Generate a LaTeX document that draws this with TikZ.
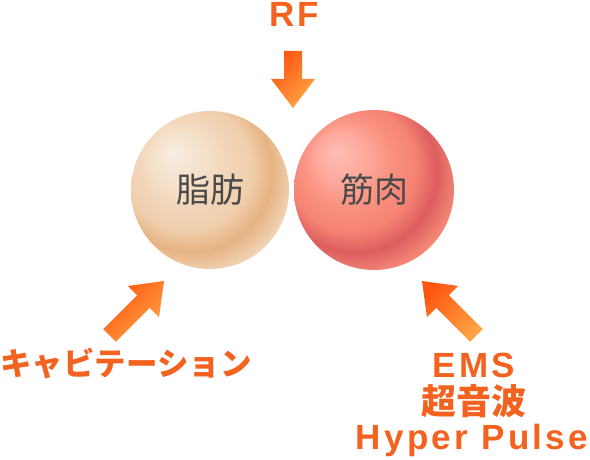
\documentclass[tikz,border=0pt]{standalone}
\usepackage{fontspec}
\setmainfont{Liberation Sans}
\newfontfamily\latinfont{Liberation Sans}[LetterSpace=9.5]
\newfontfamily\jpfont{Noto Sans CJK JP}
\usetikzlibrary{positioning}

\definecolor{labelorange}{RGB}{243,98,30}
\definecolor{labelgray}{RGB}{74,74,74}
\definecolor{arrowdark}{RGB}{255,86,16}
\definecolor{arrowlight}{RGB}{255,164,68}

% sphere colours
\definecolor{fathi}{RGB}{249,237,226}
\definecolor{fatpale}{RGB}{245,225,203}
\definecolor{fatmid}{RGB}{242,214,186}
\definecolor{fatshade}{RGB}{240,207,173}
\definecolor{fatlo}{RGB}{230,179,130}
\definecolor{fatrim}{RGB}{241,211,180}
\definecolor{musclehi}{RGB}{255,190,180}
\definecolor{musclepale}{RGB}{254,168,155}
\definecolor{musclemid}{RGB}{250,145,128}
\definecolor{muscleshade}{RGB}{246,132,117}
\definecolor{musclelo}{RGB}{220,94,94}
\definecolor{musclerim}{RGB}{246,136,120}

\pgfdeclareradialshading{fatball}{\pgfpoint{-12bp}{12bp}}{%
  color(0bp)=(fathi); color(8bp)=(fatpale); color(14bp)=(fatmid);
  color(20bp)=(fatshade); color(25.5bp)=(fatlo); color(31bp)=(fatrim);
  color(50bp)=(fatrim)}
\pgfdeclareradialshading{muscleball}{\pgfpoint{-12bp}{12bp}}{%
  color(0bp)=(musclehi); color(8bp)=(musclepale); color(14bp)=(musclemid);
  color(20bp)=(muscleshade); color(25.5bp)=(musclelo); color(31bp)=(musclerim);
  color(50bp)=(musclerim)}

% block arrow: tip, direction, length
\newcommand{\blockarrow}[3]{%
  \begin{scope}[shift={#1}, rotate=#2]
    \shade[arrowfill] (0,0) -- (-29,22) -- (-29,9) -- (-#3,9) -- (-#3,-9)
      -- (-29,-9) -- (-29,-22) -- cycle;
  \end{scope}}

\begin{document}
\begin{tikzpicture}[x=1pt, y=1pt,
  sphere/.style={circle, shade, inner sep=0pt, minimum size=158pt,
    text=labelgray, font=\jpfont\fontsize{34}{40}\selectfont},
  orangetext/.style={text=labelorange, inner sep=0pt, anchor=base},
  latinbig/.style={orangetext, font=\latinfont\bfseries\fontsize{35}{36}\selectfont},
  jpbig/.style={orangetext, font=\jpfont\bfseries\fontsize{35}{36}\selectfont},
  arrowfill/.style={top color=arrowdark, bottom color=arrowlight, shading angle=45}]

% Set the size of the figure
\useasboundingbox (0,0) rectangle (590,460);

% the two spheres
\node[sphere, shading=fatball] (fat) at (210,270) {脂肪};
\node[sphere, shading=muscleball, minimum size=160pt] (muscle) at (374,270) {筋肉};

% arrow tips
\coordinate (rftip) at (293,352);
\coordinate (cavtip) at (164,179);
\coordinate (emstip) at (422,179);

\blockarrow{(rftip)}{-90}{57}
\blockarrow{(cavtip)}{45}{77}
\blockarrow{(emstip)}{135}{77}

% labels
\node[latinbig] (rf) at (294,433) {RF};
\node[orangetext, font=\jpfont\bfseries\fontsize{31.5}{36}\selectfont] (cavitation) at (126,84) {キャビテーション};
\node[latinbig] (ems) at (474,82) {EMS};
\node[jpbig] (ultrasound) at (473.5,45.5) {超音波};
\node[latinbig] (hyperpulse) at (472,10) {Hyper Pulse};
\end{tikzpicture}
\end{document}
